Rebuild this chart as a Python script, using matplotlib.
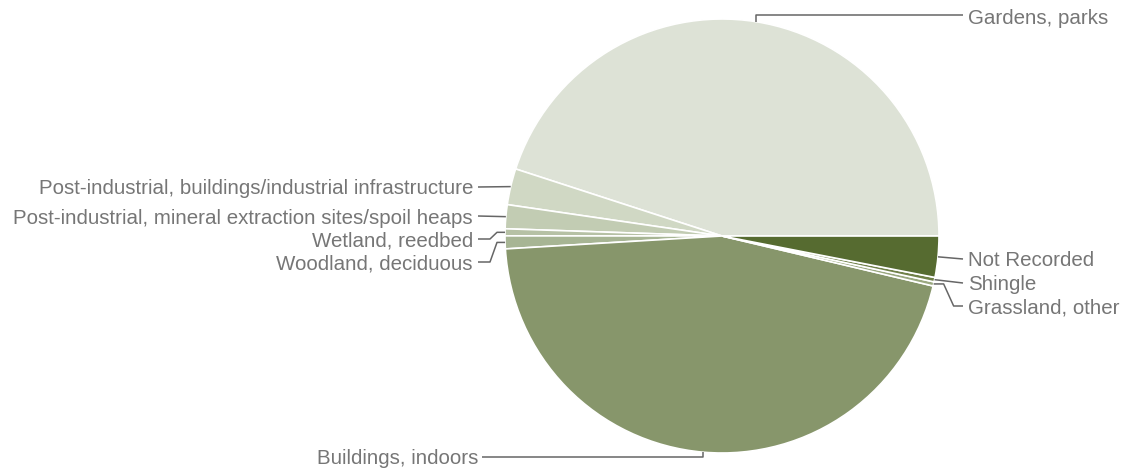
import numpy as np
import matplotlib.pyplot as plt

# habitat shares (%), counter-clockwise from 3 o'clock
habitats = [
    "Gardens, parks",
    "Post-industrial, buildings/industrial infrastructure",
    "Post-industrial, mineral extraction sites/spoil heaps",
    "Wetland, reedbed",
    "Woodland, deciduous",
    "Buildings, indoors",
    "Grassland, other",
    "Shingle",
    "Not Recorded",
]
shares = [45.0, 2.69, 1.78, 0.52, 0.96, 45.35, 0.31, 0.33, 3.06]
colors = ["#dde2d6", "#d0d8c4", "#c2ccb3", "#b6c1a5", "#a7b594",
          "#87966b", "#9aa880", "#6f8048", "#566b30"]

# label layout: side and text centre y (pixels from top)
label_side = ["right", "left", "left", "left", "left", "left", "right", "right", "right"]
label_y = [17, 187, 216, 239, 262, 457, 306, 283, 259]

W, H = 1126, 475
cx, cy, r = 722, H - 236, 217

fig = plt.figure(figsize=(W / 100, H / 100), dpi=100)
ax = fig.add_axes([0, 0, 1, 1])

wedges, _ = ax.pie(shares, colors=colors, startangle=0, counterclock=True,
                   center=(cx, cy), radius=r,
                   wedgeprops=dict(edgecolor="white", linewidth=1.2))
ax.set_xlim(0, W)
ax.set_ylim(0, H)
ax.set_aspect("equal")
ax.axis("off")

line_col = "#666666"
text_col = "#767676"
fs = 14.8
for w, name, side, ly in zip(wedges, habitats, label_side, label_y):
    mid = np.deg2rad((w.theta1 + w.theta2) / 2)
    px = cx + r * np.cos(mid)
    py = cy + r * np.sin(mid)
    ty = H - ly
    if side == "right":
        tx = 968
        if name == "Gardens, parks":
            xs = [px, px, tx - 5]
            ys = [py, ty + 2, ty + 2]
        elif abs(py - ty) < 4:
            xs = [px, tx - 5]
            ys = [py, ty]
        else:
            xs = [px, px + 10, px + 20, tx - 5]
            ys = [py, py, ty, ty]
        ax.plot(xs, ys, color=line_col, lw=1.1, solid_capstyle="butt")
        ax.text(tx, ty - 2, name, ha="left", va="center", color=text_col,
                fontsize=fs, family="Liberation Sans")
    else:
        if name == "Buildings, indoors":
            tx = 478
            xs = [px, px, tx + 4]
            ys = [py, ty, ty]
        else:
            tx = 473
            if abs(py - ty) < 4:
                xs = [px, tx + 5]
                ys = [py, ty]
            else:
                xs = [px, 497, 490, tx + 5]
                ys = [py, py, ty, ty]
        ax.plot(xs, ys, color=line_col, lw=1.1, solid_capstyle="butt")
        ax.text(tx, ty - 2, name, ha="right", va="center", color=text_col,
                fontsize=fs, family="Liberation Sans")

fig.savefig("out.png", dpi=100)
